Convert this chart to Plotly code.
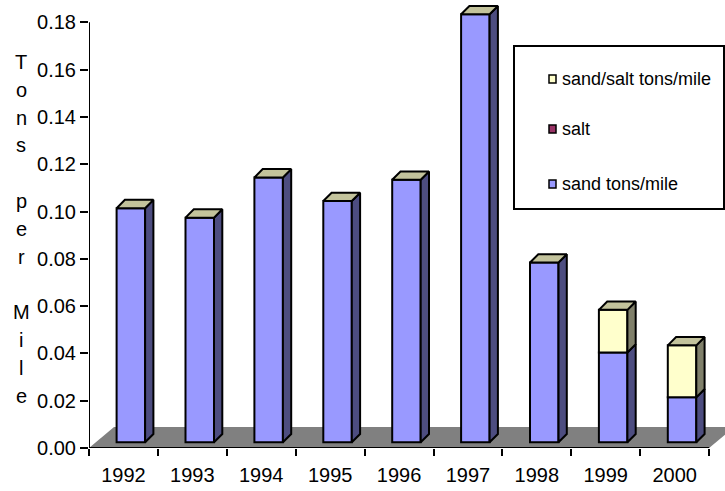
import plotly.graph_objects as go

# ---------------- data ----------------
years = ["1992", "1993", "1994", "1995", "1996", "1997", "1998", "1999", "2000"]
sand_tons_per_mile = [0.099, 0.095, 0.112, 0.102, 0.111, 0.181, 0.076, 0.038, 0.019]
salt = [0, 0, 0, 0, 0, 0, 0, 0, 0]
sand_salt_tons_per_mile = [0, 0, 0, 0, 0, 0, 0, 0.018, 0.022]
y_tick_values = [0.00, 0.02, 0.04, 0.06, 0.08, 0.10, 0.12, 0.14, 0.16, 0.18]
y_tick_labels = [f"{v:.2f}" for v in y_tick_values]
legend_names = ["sand/salt tons/mile", "salt", "sand tons/mile"]
axis_title = "Tons per Mile"

# ---------------- style / geometry ----------------
FONT = "Liberation Sans, Arial, sans-serif"
W, H = 725, 491
ML, MR, MT, MB = 89, 0, 0, 43
PLOT_W, PLOT_H = W - ML - MR, H - MT - MB
PX_PER_CAT = 68.9
PX_PER_UNIT = 47.3 / 0.02
X_RANGE = [-0.5, -0.5 + PLOT_W / PX_PER_CAT]
Y_RANGE = [0, PLOT_H / PX_PER_UNIT]


def dx(px):
    return px / PX_PER_CAT


def dy(px):
    return px / PX_PER_UNIT


def paper_x(px):
    return (px - ML) / PLOT_W


def paper_y(py):
    return 1 - (py - MT) / PLOT_H


FLOOR_DX, FLOOR_DY = dx(25), dy(21)
BAR_SHIFT, BAR_BASE = dx(7.4), dy(5.7)
BAR_W = dx(28.5)
SIDE_DX, SIDE_DY = dx(8.3), dy(8.3)

C_SAND, C_SAND_SIDE = "#9999FF", "#4D4D80"
C_SS, C_SS_SIDE = "#FFFFCC", "#80806A"
C_SALT = "#993366"
C_TOP = "#C3C39C"
C_FLOOR = "#808080"

n = len(years)
xc = [i + BAR_SHIFT for i in range(n)]


def nz(vals):
    return [v if v else None for v in vals]


fig = go.Figure()

# front faces (bars)
fig.add_trace(go.Bar(x=xc, y=nz(sand_tons_per_mile), base=BAR_BASE, width=BAR_W,
                     name=legend_names[2], marker=dict(color=C_SAND, line=dict(color="black", width=2)),
                     showlegend=False, hoverinfo="skip"))
base_salt = [BAR_BASE + s for s in sand_tons_per_mile]
fig.add_trace(go.Bar(x=xc, y=nz(salt), base=base_salt, width=BAR_W,
                     name=legend_names[1], marker=dict(color=C_SALT, line=dict(color="black", width=2)),
                     showlegend=False, hoverinfo="skip"))
base_ss = [BAR_BASE + s + t for s, t in zip(sand_tons_per_mile, salt)]
fig.add_trace(go.Bar(x=xc, y=nz(sand_salt_tons_per_mile), base=base_ss, width=BAR_W,
                     name=legend_names[0], marker=dict(color=C_SS, line=dict(color="black", width=2)),
                     showlegend=False, hoverinfo="skip"))

# side and top faces computed from the values
side = {C_SAND_SIDE: ([], []), C_SS_SIDE: ([], [])}
tops = ([], [])
for i in range(n):
    segs = []
    y0 = BAR_BASE
    for v, col in ((sand_tons_per_mile[i], C_SAND_SIDE), (salt[i], C_SAND_SIDE),
                   (sand_salt_tons_per_mile[i], C_SS_SIDE)):
        if v:
            segs.append((y0, y0 + v, col))
            y0 += v
    xl, xr = xc[i] - BAR_W / 2, xc[i] + BAR_W / 2
    for a, b, col in segs:
        xs, ys = side[col]
        xs += [xr, xr + SIDE_DX, xr + SIDE_DX, xr, xr, None]
        ys += [a, a + SIDE_DY, b + SIDE_DY, b, a, None]
    top = segs[-1][1]
    tops[0].extend([xl, xl + SIDE_DX, xr + SIDE_DX, xr, xl, None])
    tops[1].extend([top, top + SIDE_DY, top + SIDE_DY, top, top, None])

for col, (xs, ys) in side.items():
    fig.add_trace(go.Scatter(x=xs, y=ys, mode="lines", fill="toself", fillcolor=col,
                             line=dict(color="black", width=2), showlegend=False, hoverinfo="skip"))
fig.add_trace(go.Scatter(x=tops[0], y=tops[1], mode="lines", fill="toself", fillcolor=C_TOP,
                         line=dict(color="black", width=2), showlegend=False, hoverinfo="skip"))

shapes = []
# floor
x0f, x1f = -0.5, n - 0.5
shapes.append(dict(type="path", xref="x", yref="y", layer="below",
                   path=f"M {x0f},0 L {x1f},0 L {x1f + FLOOR_DX},{FLOOR_DY} L {x0f + FLOOR_DX},{FLOOR_DY} Z",
                   fillcolor=C_FLOOR, line=dict(width=0)))
# axis lines
shapes.append(dict(type="line", xref="x", yref="y", x0=x0f, x1=x1f, y0=0, y1=0,
                   line=dict(color="black", width=2)))
shapes.append(dict(type="line", xref="x", yref="y", x0=x0f, x1=x0f, y0=0, y1=y_tick_values[-1],
                   line=dict(color="black", width=2)))

# legend box
shapes.append(dict(type="rect", xref="paper", yref="paper",
                   x0=paper_x(514), x1=paper_x(724), y0=paper_y(209), y1=paper_y(46),
                   line=dict(color="black", width=2), fillcolor="white", layer="above"))
annotations = []
legend_rows = [79, 129, 184]
legend_colors = [C_SS, C_SALT, C_SAND]
for name, col, ry in zip(legend_names, legend_colors, legend_rows):
    shapes.append(dict(type="rect", xref="paper", yref="paper",
                       x0=paper_x(549), x1=paper_x(556), y0=paper_y(ry + 4), y1=paper_y(ry - 4),
                       line=dict(color="black", width=1.5), fillcolor=col))
    annotations.append(dict(text=name, xref="paper", yref="paper", x=paper_x(560), y=paper_y(ry),
                            xanchor="left", yanchor="middle", showarrow=False,
                            font=dict(family=FONT, size=18, color="black")))

# vertical stacked axis title
LETTER_TOP, LETTER_STEP = 62, 27.8
for k, ch in enumerate(axis_title):
    if ch == " ":
        continue
    annotations.append(dict(text=ch, xref="paper", yref="paper", x=paper_x(21), y=paper_y(LETTER_TOP + k * LETTER_STEP),
                            xanchor="center", yanchor="middle", showarrow=False,
                            font=dict(family=FONT, size=20, color="black")))

fig.update_layout(
    width=W, height=H,
    margin=dict(l=ML, r=MR, t=MT, b=MB),
    paper_bgcolor="white", plot_bgcolor="white",
    barmode="overlay",
    showlegend=False,
    shapes=shapes,
    annotations=annotations,
    xaxis=dict(range=X_RANGE, tickmode="array", tickvals=list(range(n)), ticktext=years,
               ticks="outside", ticklen=9, tickcolor="rgba(0,0,0,0)",
               showgrid=False, zeroline=False, showline=False,
               tickfont=dict(family=FONT, size=20, color="black"),
               minor=dict(tickmode="array", tickvals=[i - 0.5 for i in range(n + 1)],
                          ticks="outside", ticklen=7, tickwidth=2, tickcolor="black", showgrid=False)),
    yaxis=dict(range=Y_RANGE, tickmode="array", tickvals=y_tick_values, ticktext=y_tick_labels,
               ticks="outside", ticklen=8, tickwidth=2, tickcolor="black",
               showgrid=False, zeroline=False, showline=False,
               tickfont=dict(family=FONT, size=20, color="black")),
)

fig.write_html("out.html")
